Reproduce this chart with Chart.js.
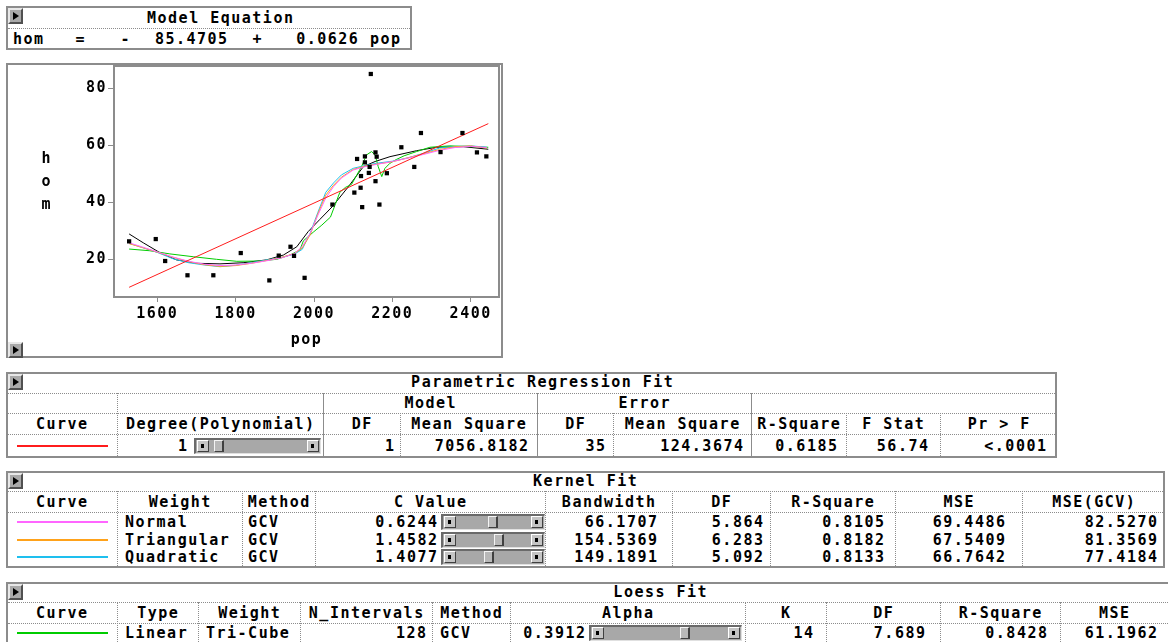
<!DOCTYPE html>
<html>
<head>
<meta charset="utf-8">
<script src="https://cdn.jsdelivr.net/npm/chart.js@4.4.1/dist/chart.umd.min.js"></script>
<style>
  html, body { margin: 0; padding: 0; background: #fff; }
  body {
    position: relative; width: 1168px; height: 642px; overflow: hidden;
    font-family: "DejaVu Sans Mono", monospace; font-weight: bold; font-size: 15px;
    letter-spacing: 1.5px; color: #000;
  }
  .box { position: absolute; box-sizing: border-box; border: 2px solid #8c8c8c; }
  .hl { position: absolute; height: 0; border-top: 1px dotted #8c8c8c; }
  .vl { position: absolute; width: 0; border-left: 1px dotted #8c8c8c; }
  .vl.solid { border-left: 1px solid #8c8c8c; }
  .t { position: absolute; white-space: pre; line-height: 18px; height: 18px; }
  .btn {
    position: absolute; width: 15px; height: 16px; box-sizing: border-box; background: #a9a9a9;
    border-top: 2px solid #e8e8e8; border-left: 2px solid #e8e8e8;
    border-right: 2px solid #505050; border-bottom: 2px solid #505050;
  }
  .btn::after {
    content: ""; position: absolute; left: 3px; top: 2px;
    border-left: 6px solid #000; border-top: 4px solid transparent; border-bottom: 4px solid transparent;
  }
  .swatch { position: absolute; height: 2px; }
  .slider {
    position: absolute; height: 16px; box-sizing: border-box; background: #a8a8a8;
    border-top: 2px solid #6a6a6a; border-left: 2px solid #6a6a6a;
    border-right: 1px solid #e0e0e0; border-bottom: 1px solid #e0e0e0;
  }
  .arrow {
    position: absolute; top: 0; width: 12px; height: 12px; box-sizing: border-box; background: #c4c4c4;
    border-top: 1px solid #fff; border-left: 1px solid #fff; border-right: 1px solid #404040; border-bottom: 1px solid #404040;
  }
  .arrow::after { content: ""; position: absolute; left: 3px; top: 3px; width: 3px; height: 4px; background: #000; }
  .thumb {
    position: absolute; top: 0; width: 10px; height: 12px; box-sizing: border-box; background: #b8b8b8;
    border-top: 1px solid #f4f4f4; border-left: 1px solid #f4f4f4; border-right: 2px solid #404040; border-bottom: 1px solid #404040;
  }
  #plotFrame { position: absolute; left: 6px; top: 63px; width: 497px; height: 295px; pointer-events: none; }
  #chart { position: absolute; left: 6px; top: 63px; }
</style>
</head>
<body>
<canvas id="chart" width="497" height="295"></canvas>
<div id="plotFrame" class="box"></div>

<script>
// ---- scatter data: homicides (hom) against population (pop) ----
const popValues = [1528, 1596, 1620, 1677, 1743, 1813, 1886, 1910, 1940, 1949, 1976,
  2047, 2103, 2110, 2119, 2123, 2120, 2130, 2130, 2140, 2142, 2145, 2157, 2160, 2157,
  2167, 2186, 2223, 2256, 2273, 2323, 2379, 2416, 2440];
const homValues = [26.3, 27.1, 19.4, 14.4, 14.4, 22.2, 12.6, 21.3, 24.4, 21.2, 13.5,
  39.2, 43.4, 55.2, 45.1, 38.3, 49.2, 56.1, 54.0, 50.3, 52.4, 85.0, 57.5, 56.0, 47.4,
  39.2, 50.2, 59.3, 52.4, 64.3, 57.6, 64.3, 57.5, 56.1];

// ---- linear fit: hom = -85.4705 + 0.0626 pop ----
const linIntercept = -85.4705;
const linSlope = 0.0626;
const linPopEnds = [1528, 2445];

// ---- kernel fits (shared pop grid) ----
const kernelPop = [1528, 1560, 1600, 1640, 1680, 1720, 1760, 1800, 1840, 1880, 1920, 1950,
  1970, 1990, 2010, 2030, 2050, 2070, 2100, 2130, 2160, 2200, 2240, 2280, 2320, 2360, 2400, 2441];
const normalHom = [25.8, 24.4, 22.6, 20.8, 19.3, 18.3, 17.8, 18.0, 18.6, 19.5, 20.6, 22.0,
  24.5, 29.0, 35.5, 41.5, 45.5, 48.5, 51.3, 52.5, 53.3, 54.3, 55.5, 56.8, 58.2, 59.2, 59.6, 59.2];
const triangularHom = [25.5, 24.2, 22.5, 20.7, 19.2, 18.1, 17.5, 17.8, 18.6, 19.6, 20.8, 22.0,
  24.0, 28.5, 36.0, 42.5, 46.0, 48.8, 51.5, 52.7, 53.4, 54.2, 55.6, 57.0, 58.5, 59.5, 59.8, 59.0];
const quadraticHom = [25.6, 24.2, 22.4, 20.2, 18.8, 18.0, 17.4, 17.9, 18.8, 19.8, 20.8, 21.8,
  23.5, 29.1, 36.5, 43.5, 46.8, 49.6, 51.9, 52.9, 53.7, 54.4, 55.6, 57.2, 59.0, 59.6, 59.8, 59.3];

// ---- loess fit ----
const loessPop = [1528, 1581, 1632, 1692, 1751, 1803, 1862, 1905, 1939, 1964, 1973, 1998,
  2020, 2042, 2055, 2066, 2080, 2096, 2109, 2122, 2134, 2147, 2156, 2164, 2173, 2181, 2194,
  2210, 2230, 2262, 2296, 2347, 2400, 2445];
const loessHom = [23.6, 23.0, 21.9, 20.9, 20.0, 19.3, 19.4, 20.0, 21.5, 23.3, 26.5, 29.5,
  32.0, 34.8, 39.5, 43.5, 45.2, 46.3, 49.5, 52.7, 56.6, 57.8, 56.6, 52.5, 49.0, 51.9, 53.7,
  55.0, 56.3, 57.8, 59.3, 59.8, 59.5, 59.3];

// ---- smoothing curve (black) ----
const smoothPop = [1528, 1564, 1607, 1649, 1700, 1760, 1819, 1879, 1922, 1956, 1985, 2015,
  2047, 2088, 2126, 2156, 2194, 2262, 2313, 2381, 2445];
const smoothHom = [28.9, 25.8, 22.3, 19.8, 18.6, 18.4, 18.8, 19.8, 21.5, 24.4, 29.7, 34.0,
  38.5, 45.5, 52.5, 54.3, 56.0, 58.1, 59.3, 59.5, 58.6];

// ---- axis ticks ----
const popTicks = [1600, 1800, 2000, 2200, 2400];
const homTicks = [20, 40, 60, 80];

// ---- table contents ----
const equationParts = ['hom', '=', '-', '85.4705', '+', '0.0626', 'pop'];
const paramHeaders = ['Curve', 'Degree(Polynomial)', 'DF', 'Mean Square', 'DF', 'Mean Square', 'R-Square', 'F Stat', 'Pr > F'];
const paramGroups = ['Model', 'Error'];
const paramValues = ['1', '1', '7056.8182', '35', '124.3674', '0.6185', '56.74', '<.0001'];
const kernelHeaders = ['Curve', 'Weight', 'Method', 'C Value', 'Bandwidth', 'DF', 'R-Square', 'MSE', 'MSE(GCV)'];
const kernelWeights = ['Normal', 'Triangular', 'Quadratic'];
const kernelMethods = ['GCV', 'GCV', 'GCV'];
const kernelC = ['0.6244', '1.4582', '1.4077'];
const kernelBandwidth = ['66.1707', '154.5369', '149.1891'];
const kernelDF = ['5.864', '6.283', '5.092'];
const kernelRSq = ['0.8105', '0.8182', '0.8133'];
const kernelMSE = ['69.4486', '67.5409', '66.7642'];
const kernelGCV = ['82.5270', '81.3569', '77.4184'];
const loessHeaders = ['Curve', 'Type', 'Weight', 'N_Intervals', 'Method', 'Alpha', 'K', 'DF', 'R-Square', 'MSE'];
const loessValues = ['Linear', 'Tri-Cube', '128', 'GCV', '0.3912', '14', '7.689', '0.8428', '61.1962'];

const colors = { linear: '#ff1c1c', normal: '#ff66ff', triangular: '#ffa21a', quadratic: '#1ebfee', loess: '#00cc00', smooth: '#000000' };

// ---------- helpers for the table panels ----------
const LS = 1.5;
function el(cls, css) {
  const d = document.createElement('div');
  d.className = cls;
  Object.assign(d.style, css);
  document.body.appendChild(d);
  return d;
}
function px(v) { return v + 'px'; }
function text(str, x, cy, align) {
  const w = 400;
  let left;
  if (align === 'l') left = x;
  else if (align === 'r') left = x - w + LS;
  else left = x - w / 2 + LS / 2;
  const d = el('t', { left: px(left), top: px(cy - 9), width: px(w), textAlign: align === 'l' ? 'left' : align === 'r' ? 'right' : 'center' });
  d.textContent = str;
}
function box(x0, y0, x1, y1) { el('box', { left: px(x0), top: px(y0), width: px(x1 - x0), height: px(y1 - y0), background: 'transparent' }); }
function hline(x0, x1, y) { el('hl', { left: px(x0), top: px(y), width: px(x1 - x0) }); }
function vline(x, y0, y1, solid) { el(solid ? 'vl solid' : 'vl', { left: px(x), top: px(y0), height: px(y1 - y0) }); }
function button(x, y) { el('btn', { left: px(x), top: px(y) }); }
function swatch(x0, x1, y, color) { el('swatch', { left: px(x0), top: px(y - 1), width: px(x1 - x0), background: color }); }
function slider(x0, x1, cy, thumbX) {
  const s = el('slider', { left: px(x0), top: px(cy - 8), width: px(x1 - x0) });
  const a1 = document.createElement('div'); a1.className = 'arrow'; a1.style.left = '1px'; s.appendChild(a1);
  const a2 = document.createElement('div'); a2.className = 'arrow'; a2.style.right = '1px'; s.appendChild(a2);
  const th = document.createElement('div'); th.className = 'thumb'; th.style.left = px(thumbX - x0 - 2); s.appendChild(th);
}
function centersOf(edges) { const c = []; for (let i = 0; i < edges.length - 1; i++) c.push((edges[i] + edges[i + 1]) / 2); return c; }

// ---------- Model Equation ----------
box(6, 6, 412, 50);
button(8, 8);
text('Model Equation', 220, 18, 'c');
hline(8, 410, 28);
const eqPos = [[13, 'l'], [80, 'c'], [125, 'c'], [191, 'c'], [257, 'c'], [327, 'c'], [385, 'c']];
equationParts.forEach((p, i) => text(p, eqPos[i][0], 39, eqPos[i][1]));

// ---------- Parametric Regression Fit ----------
{
  const top = 372, bottom = 458, right = 1057;
  const edges = [6, 117, 323, 400, 537, 613, 751, 846, 940, right];
  box(6, top, right, bottom);
  button(8, top + 2);
  text('Parametric Regression Fit', 542, 382, 'c');
  hline(8, right - 2, 393);
  hline(8, right - 2, 413);
  hline(8, right - 2, 434);
  vline(117, 393, bottom - 2, false);
  vline(323, 393, bottom - 2, true);
  vline(537, 393, bottom - 2, true);
  vline(751, 393, bottom - 2, true);
  [400, 613, 846, 940].forEach(x => vline(x, 413, bottom - 2, false));
  text(paramGroups[0], 430, 403, 'c');
  text(paramGroups[1], 644, 403, 'c');
  const c = centersOf(edges);
  paramHeaders.forEach((h, i) => text(h, c[i], 424, 'c'));
  swatch(17, 108, 446, colors.linear);
  text(paramValues[0], 187, 446, 'r');
  slider(194, 321, 446, 214);
  const rights = [394, 528, 605, 743, 837, 928, 1046];
  paramValues.slice(1).forEach((v, i) => text(v, rights[i], 446, 'r'));
}

// ---------- Kernel Fit ----------
{
  const top = 471, bottom = 568, right = 1165;
  const edges = [6, 117, 242, 315, 545, 672, 770, 895, 1022, right];
  box(6, top, right, bottom);
  button(8, top + 2);
  text('Kernel Fit', 585, 481, 'c');
  hline(8, right - 2, 491);
  hline(8, right - 2, 512);
  edges.slice(1, -1).forEach(x => vline(x, 491, bottom - 2, false));
  const c = centersOf(edges);
  kernelHeaders.forEach((h, i) => text(h, c[i], 502, 'c'));
  const rowsY = [522, 540, 557];
  const swatchColors = [colors.normal, colors.triangular, colors.quadratic];
  const thumbs = [488, 494, 484];
  rowsY.forEach((y, r) => {
    swatch(17, 108, y, swatchColors[r]);
    text(kernelWeights[r], 125, y, 'l');
    text(kernelMethods[r], 248, y, 'l');
    text(kernelC[r], 437, y, 'r');
    slider(441, 545, y, thumbs[r]);
    text(kernelBandwidth[r], 657, y, 'r');
    text(kernelDF[r], 763, y, 'r');
    text(kernelRSq[r], 884, y, 'r');
    text(kernelMSE[r], 1005, y, 'r');
    text(kernelGCV[r], 1157, y, 'r');
  });
}

// ---------- Loess Fit (panel runs past the right edge) ----------
{
  const top = 582, bottom = 660, right = 1320;
  const edges = [6, 117, 198, 300, 432, 510, 745, 826, 940, 1060, 1168];
  box(6, top, right, bottom);
  button(8, top + 2);
  text('Loess Fit', 660, 592, 'c');
  hline(8, 1168, 602);
  hline(8, 1168, 623);
  edges.slice(1, -1).forEach(x => vline(x, 602, 642, false));
  const c = centersOf(edges);
  loessHeaders.forEach((h, i) => text(h, c[i], 613, 'c'));
  const y = 633;
  swatch(17, 108, y, colors.loess);
  text(loessValues[0], 125, y, 'l');
  text(loessValues[1], 206, y, 'l');
  text(loessValues[2], 426, y, 'r');
  text(loessValues[3], 440, y, 'l');
  text(loessValues[4], 585, y, 'r');
  slider(589, 742, y, 680);
  text(loessValues[5], 813, y, 'r');
  text(loessValues[6], 925, y, 'r');
  text(loessValues[7], 1047, y, 'r');
  text(loessValues[8], 1157, y, 'r');
}

// ---------- plot panel extras ----------
button(8, 342);
['h', 'o', 'm'].forEach((ch, i) => text(ch, 46, 158 + i * 23, 'c'));

// ---------- chart ----------
const pts = (xs, ys) => xs.map((x, i) => ({ x, y: ys[i] }));
const linearLine = linPopEnds.map(x => ({ x, y: linIntercept + linSlope * x }));

function curve(data, color) {
  return { data, showLine: true, borderColor: color, borderWidth: 1, pointRadius: 0, tension: 0, fill: false, order: 2 };
}

const tickFont = { family: 'DejaVu Sans Mono', size: 15, weight: 'bold' };

const letterSpacing = {
  id: 'letterSpacing',
  beforeLayout(chart) { chart.ctx.letterSpacing = LS + 'px'; },
  beforeDraw(chart) { chart.ctx.letterSpacing = LS + 'px'; }
};
const plotFrame = {
  id: 'plotFrame',
  beforeDatasetsDraw(chart) {
    const { ctx, chartArea: a } = chart;
    ctx.save();
    ctx.strokeStyle = '#8c8c8c';
    ctx.lineWidth = 2;
    ctx.strokeRect(a.left, a.top, a.right - a.left, a.bottom - a.top);
    ctx.restore();
  }
};

new Chart(document.getElementById('chart'), {
  type: 'scatter',
  data: {
    datasets: [
      { data: pts(popValues, homValues), pointStyle: 'rect', pointRadius: 3, backgroundColor: '#000', borderWidth: 0, showLine: false, order: 0 },
      curve(linearLine, colors.linear),
      curve(pts(kernelPop, normalHom), colors.normal),
      curve(pts(kernelPop, triangularHom), colors.triangular),
      curve(pts(kernelPop, quadraticHom), colors.quadratic),
      curve(pts(loessPop, loessHom), colors.loess),
      curve(pts(smoothPop, smoothHom), colors.smooth)
    ]
  },
  options: {
    responsive: false,
    animation: false,
    devicePixelRatio: 1,
    layout: { autoPadding: false, padding: { top: 3, right: 4, left: 0, bottom: 0 } },
    plugins: { legend: { display: false }, tooltip: { enabled: false } },
    scales: {
      x: {
        type: 'linear', min: 1489.4, max: 2472.3,
        afterFit(s) { s.height = 61; s.paddingLeft = 0; s.paddingRight = 0; },
        afterBuildTicks(s) { s.ticks = popTicks.map(v => ({ value: v })); },
        ticks: { color: '#000', font: tickFont, padding: 3, maxRotation: 0, callback: v => String(v) },
        grid: { drawOnChartArea: false, tickLength: 5, color: '#8c8c8c', lineWidth: 1 },
        border: { display: false },
        title: { display: true, text: 'pop', color: '#000', font: tickFont, padding: { top: 0, bottom: 9 } }
      },
      y: {
        type: 'linear', min: 6.78, max: 87.8,
        afterFit(s) { s.width = 108; s.paddingTop = 0; s.paddingBottom = 0; },
        afterBuildTicks(s) { s.ticks = homTicks.map(v => ({ value: v })); },
        ticks: { color: '#000', font: tickFont, padding: 1, callback: v => String(v) },
        grid: { drawOnChartArea: false, tickLength: 6, color: '#8c8c8c', lineWidth: 1 },
        border: { display: false }
      }
    }
  },
  plugins: [letterSpacing, plotFrame]
});
</script>
</body>
</html>
